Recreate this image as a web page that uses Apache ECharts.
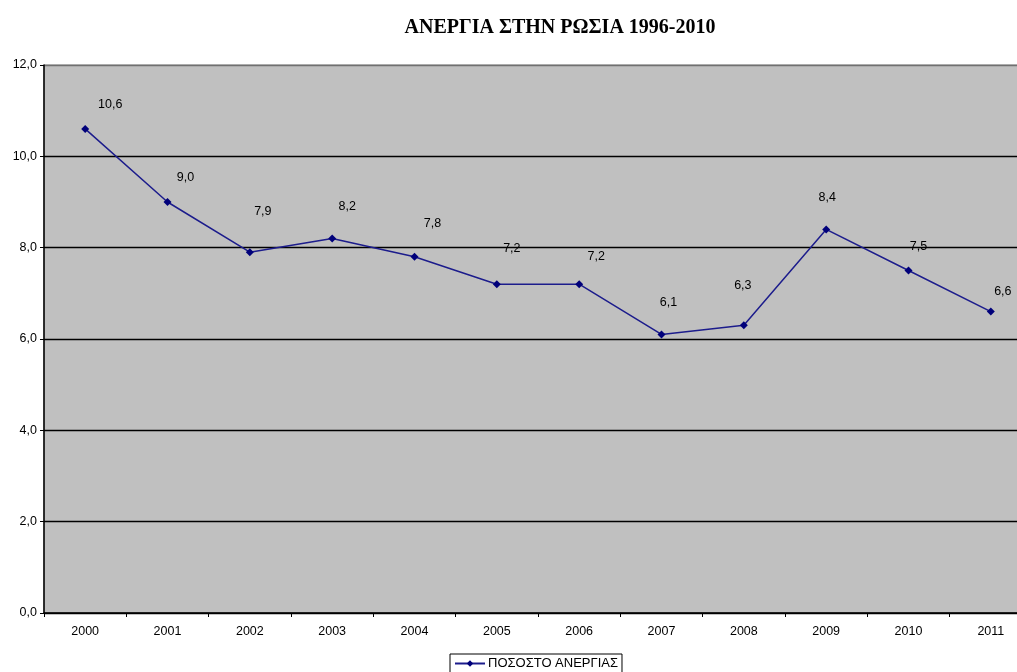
<!DOCTYPE html>
<html>
<head>
<meta charset="utf-8">
<script src="https://cdn.jsdelivr.net/npm/echarts@6/dist/echarts.min.js"></script>
<style>
  html, body { margin: 0; padding: 0; background: #ffffff; overflow: hidden; }
  /* the plot runs slightly past the right edge of the window */
  #chart { width: 1032px; height: 672px; }
</style>
</head>
<body>
<div id="chart"></div>
<script>
// Unemployment rate in Russia, by year
const years = ['2000', '2001', '2002', '2003', '2004', '2005', '2006', '2007', '2008', '2009', '2010', '2011'];
const unemployment = [10.6, 9.0, 7.9, 8.2, 7.8, 7.2, 7.2, 6.1, 6.3, 8.4, 7.5, 6.6];
const seriesName = 'ΠΟΣΟΣΤΟ ΑΝΕΡΓΙΑΣ';
const titleText = 'ΑΝΕΡΓΙΑ ΣΤΗΝ ΡΩΣΙΑ 1996-2010';

// Per-point nudges for the value labels (pixels, relative to the point)
const labelNudge = [
  [25, -24], [18, -24], [13, -41], [15, -32], [18, -33], [15, -36],
  [17, -28], [7, -32], [-1, -40], [1, -32], [10, -24], [12, -20]
];

const comma = v => v.toFixed(1).replace('.', ',');
const sans = '"Liberation Sans", Arial, sans-serif';

const chart = echarts.init(document.getElementById('chart'), null, { renderer: 'canvas' });

chart.setOption({
  animation: false,
  backgroundColor: '#ffffff',
  title: {
    text: titleText,
    left: 555,
    top: 13,
    textAlign: 'center',
    textStyle: {
      fontFamily: '"Liberation Serif", "DejaVu Serif", serif',
      fontWeight: 'bold',
      fontSize: 20,
      color: '#000000'
    }
  },
  legend: {
    data: [seriesName],
    left: 450,
    top: 654,
    itemWidth: 30,
    itemHeight: 8,
    itemGap: 4,
    padding: [3, 4, 3, 4],
    borderColor: '#000000',
    borderWidth: 1,
    textStyle: {
      fontFamily: sans,
      fontSize: 13,
      color: '#000000',
      padding: [0, 0, 0, -2]
    }
  },
  grid: {
    left: 44,
    top: 65,
    bottom: 59,
    right: 0,
    show: true,
    backgroundColor: '#c0c0c0',
    borderColor: '#808080',
    borderWidth: 1
  },
  xAxis: {
    type: 'category',
    data: years,
    boundaryGap: true,
    axisLine: { lineStyle: { color: '#000000', width: 1.5 } },
    axisTick: { show: true, alignWithLabel: false, length: 4, lineStyle: { color: '#000000' } },
    axisLabel: {
      margin: 12,
      fontFamily: sans,
      fontSize: 12.5,
      color: '#000000'
    }
  },
  yAxis: {
    type: 'value',
    min: 0,
    max: 12,
    interval: 2,
    axisLine: { show: true, lineStyle: { color: '#000000', width: 1.5 } },
    axisTick: { show: true, length: 4, lineStyle: { color: '#000000' } },
    axisLabel: {
      margin: 7,
      formatter: v => comma(v),
      fontFamily: sans,
      fontSize: 12.5,
      color: '#000000'
    },
    splitLine: {
      show: true,
      lineStyle: {
        color: ['#000000', '#000000', '#000000', '#000000', '#000000', '#000000', '#707070'],
        width: 1.3
      }
    }
  },
  series: [{
    name: seriesName,
    type: 'line',
    data: unemployment.map((v, i) => ({
      value: v,
      label: { offset: labelNudge[i] }
    })),
    symbol: 'diamond',
    symbolSize: 8,
    lineStyle: { color: '#1c1c8c', width: 1.5 },
    itemStyle: { color: '#00007a' },
    label: {
      show: true,
      position: 'inside',
      formatter: p => comma(p.value),
      fontFamily: sans,
      fontSize: 12.5,
      color: '#000000'
    }
  }]
});
</script>
</body>
</html>
